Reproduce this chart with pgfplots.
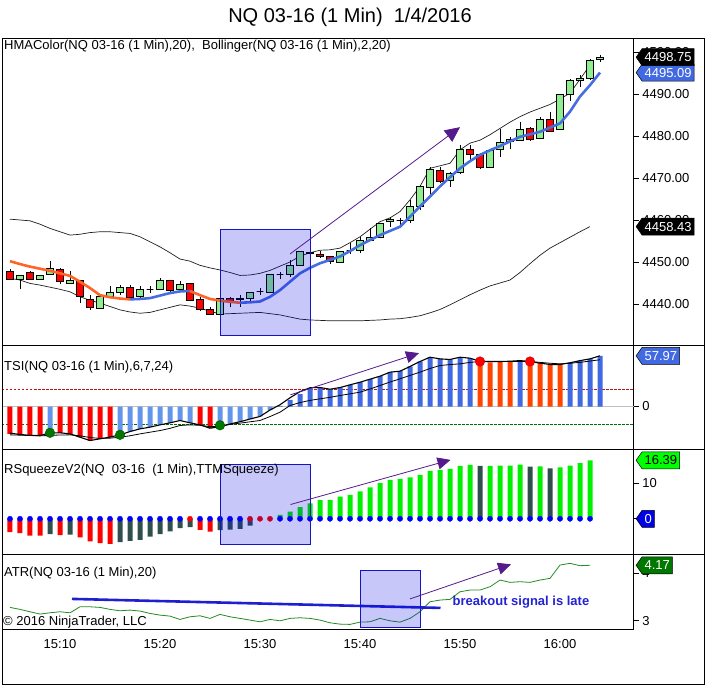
\documentclass[border=0pt]{standalone}
\usepackage{fontspec}
\setmainfont{Liberation Sans}
\usepackage{pgfplots}
\pgfplotsset{compat=1.18}
\usetikzlibrary{arrows.meta,shapes.symbols}

\definecolor{cgreen}{RGB}{144,238,144}
\definecolor{cred}{RGB}{255,0,0}
\definecolor{hmaor}{RGB}{255,100,40}
\definecolor{hmabl}{RGB}{70,110,225}
\definecolor{tsilb}{RGB}{100,149,237}
\definecolor{tsirb}{RGB}{65,105,225}
\definecolor{tsior}{RGB}{255,69,0}
\definecolor{sqgreen}{RGB}{0,240,0}
\definecolor{sqdark}{RGB}{47,79,79}
\definecolor{arrowc}{RGB}{85,26,139}
\definecolor{ovfill}{RGB}{0,0,230}
\definecolor{ovdraw}{RGB}{20,20,200}
\definecolor{atrg}{RGB}{34,139,34}
\definecolor{bandc}{RGB}{30,30,30}
\definecolor{lateblue}{RGB}{35,35,210}

\newcommand{\lbl}{\fontsize{13}{15}\selectfont}
% candle: position, body low, body high, low, high, fill
\newcommand{\candle}[6]{%
 \pgfmathsetmacro\xl{#1-0.33}\pgfmathsetmacro\xr{#1+0.33}%
 \addplot[black, line width=0.8pt] coordinates {(#1,#4) (#1,#5)};
 \addplot[draw=black, line width=0.8pt, fill=#6] coordinates {(\xl,#2) (\xr,#2) (\xr,#3) (\xl,#3)} -- cycle;}
\newcommand{\cu}[5]{\candle{#1}{#2}{#3}{#4}{#5}{cgreen}}
\newcommand{\cd}[5]{\candle{#1}{#2}{#3}{#4}{#5}{cred}}

\pgfplotsset{
 panel/.style={scale only axis, width=631.8pt, xmin=4.2, xmax=67.38, anchor=south west,
   axis line style={line width=0.8pt}, xtick=\empty, ytick pos=right, yticklabel pos=right,
   tick align=outside, major tick length=5pt, tick style={black, line width=0.8pt},
   ticklabel style={font=\lbl}, /pgf/number format/assume math mode=true,
   clip mode=individual},
}
\tikzset{
 ovbox/.style={fill=ovfill, fill opacity=0.22, draw=ovdraw, line width=0.9pt},
 annarrow/.style={arrowc, line width=0.8pt, -{Triangle[length=15pt,width=14pt]}},
 annarrows/.style={arrowc, line width=0.8pt, -{Triangle[length=13pt,width=12pt]}},
 tag/.style={signal, signal to=west, signal pointer angle=110, anchor=west,
   inner xsep=2.5pt, inner ysep=1.5pt, font=\lbl, draw=black, line width=0.5pt, minimum height=17pt}}

\begin{document}
\begin{tikzpicture}[x=1pt,y=1pt]
\path[use as bounding box] (0,0) rectangle (706,685);

% ---------------- price panel
\begin{axis}[panel, at={(2pt,339.5pt)}, height=307.5pt, ymin=4430.12, ymax=4503.33,
  ytick={4440,4450,4460,4470,4480,4490,4500},
  yticklabel style={/pgf/number format/.cd,fixed,fixed zerofill,precision=2,1000 sep={}}]
% bollinger
\addplot[bandc, line width=0.7pt] coordinates {(5,4460.2) (6,4460.0) (7,4459.8) (8,4459.0) (9,4458.0) (10,4457.2) (11,4456.4) (12,4456.6) (13,4457.0) (14,4457.2) (15,4457.2) (16,4457.0) (17,4456.8) (18,4456.0) (19,4454.8) (20,4453.6) (21,4452.2) (22,4450.7) (23,4450.2) (24,4449.2) (25,4448.6) (26,4448.1) (27,4447.5) (28,4446.8) (29,4446.9) (30,4447.3) (31,4448.0) (32,4449.0) (33,4450.0) (34,4451.4) (35,4452.2) (36,4452.8) (37,4452.9) (38,4453.3) (39,4454.6) (40,4456.0) (41,4457.8) (42,4459.6) (43,4460.5) (44,4462.0) (45,4464.8) (46,4468.0) (47,4472.3) (48,4472.9) (49,4473.5) (50,4476.7) (51,4478.3) (52,4479.0) (53,4480.3) (54,4481.8) (55,4483.3) (56,4484.6) (57,4485.7) (58,4486.6) (59,4487.5) (60,4488.8) (61,4490.2) (62,4493.5) (63,4496.9)};
\addplot[bandc, line width=0.7pt] coordinates {(5,4446.1) (6,4445.7) (7,4444.9) (8,4444.5) (9,4444.0) (10,4443.5) (11,4442.9) (12,4441.7) (13,4440.9) (14,4440.2) (15,4439.4) (16,4438.6) (17,4438.1) (18,4437.8) (19,4438.0) (20,4438.6) (21,4439.2) (22,4439.8) (23,4439.5) (24,4439.0) (25,4438.3) (26,4437.6) (27,4437.7) (28,4437.8) (29,4437.9) (30,4438.0) (31,4437.7) (32,4437.4) (33,4436.9) (34,4436.4) (35,4436.2) (36,4436.1) (37,4436.0) (38,4436.0) (39,4436.0) (40,4436.0) (41,4436.1) (42,4436.2) (43,4436.4) (44,4436.5) (45,4436.8) (46,4437.2) (47,4437.9) (48,4438.7) (49,4439.8) (50,4441.0) (51,4442.2) (52,4443.3) (53,4444.3) (54,4445.0) (55,4445.7) (56,4447.5) (57,4449.6) (58,4451.6) (59,4453.3) (60,4454.6) (61,4455.9) (62,4457.2) (63,4458.43)};
\cd{5}{4445.9}{4447.7}{4445.7}{4448.3}
\cu{6}{4445.9}{4446.8}{4443.5}{4446.9}
\cd{7}{4445.9}{4447.5}{4445.8}{4447.9}
\cu{8}{4445.9}{4446.8}{4445.8}{4447.0}
\cu{9}{4447.1}{4448.5}{4447.0}{4450.2}
\cd{10}{4445.3}{4448.3}{4444.8}{4448.6}
\cu{11}{4444.9}{4445.5}{4444.8}{4447.9}
\cd{12}{4441.7}{4445.7}{4440.2}{4445.8}
\cd{13}{4439.1}{4441.1}{4438.6}{4442.1}
\cu{14}{4439.0}{4441.7}{4438.9}{4441.8}
\cu{15}{4441.7}{4442.8}{4441.6}{4444.3}
\cu{16}{4442.7}{4444.0}{4442.1}{4444.5}
\cd{17}{4441.5}{4444.0}{4441.2}{4444.5}
\cu{18}{4441.7}{4443.5}{4441.1}{4444.3}
\cu{19}{4443.5}{4443.5}{4442.6}{4444.3}
\cu{20}{4443.5}{4445.5}{4443.4}{4446.1}
\cd{21}{4443.2}{4445.6}{4442.7}{4445.7}
\cu{22}{4443.5}{4444.7}{4442.9}{4445.4}
\cd{23}{4440.9}{4444.9}{4440.6}{4445.1}
\cd{24}{4438.7}{4441.1}{4438.4}{4441.7}
\cd{25}{4437.5}{4438.8}{4437.4}{4439.2}
\cu{26}{4437.5}{4441.3}{4437.4}{4441.4}
\cd{27}{4440.7}{4441.3}{4439.2}{4441.6}
\cu{28}{4441.0}{4441.4}{4439.4}{4442.1}
\cu{29}{4441.3}{4442.8}{4440.3}{4442.9}
\cu{30}{4443.0}{4443.0}{4442.1}{4443.7}
\cu{31}{4442.8}{4447.1}{4442.7}{4447.2}
\cu{32}{4447.0}{4447.0}{4445.9}{4447.7}
\cu{33}{4447.1}{4449.2}{4446.4}{4450.5}
\cu{34}{4449.3}{4452.5}{4449.2}{4452.6}
\cd{35}{4452.0}{4452.4}{4451.7}{4452.7}
\cd{36}{4451.3}{4451.9}{4450.9}{4452.7}
\cd{37}{4450.2}{4451.4}{4449.5}{4451.5}
\cu{38}{4449.9}{4452.6}{4449.8}{4452.7}
\cu{39}{4452.7}{4452.7}{4451.9}{4454.6}
\cu{40}{4452.7}{4455.2}{4452.1}{4455.9}
\cu{41}{4455.2}{4455.8}{4455.1}{4458.2}
\cu{42}{4455.8}{4459.2}{4455.6}{4459.4}
\cu{43}{4459.6}{4460.2}{4458.4}{4460.8}
\cu{44}{4459.8}{4459.8}{4458.6}{4460.5}
\cu{45}{4459.9}{4463.3}{4459.2}{4464.8}
\cu{46}{4463.3}{4468.0}{4462.4}{4468.3}
\cu{47}{4467.8}{4472.1}{4466.2}{4472.7}
\cd{48}{4469.1}{4471.9}{4468.7}{4472.5}
\cu{49}{4469.5}{4471.1}{4467.8}{4471.5}
\cu{50}{4471.3}{4476.7}{4470.9}{4477.8}
\cd{51}{4475.5}{4476.8}{4474.3}{4477.9}
\cd{52}{4472.5}{4475.5}{4472.1}{4475.9}
\cu{53}{4472.6}{4476.5}{4472.3}{4476.7}
\cu{54}{4476.8}{4478.5}{4474.9}{4481.6}
\cu{55}{4478.7}{4479.2}{4476.8}{4479.7}
\cu{56}{4479.0}{4481.6}{4478.9}{4483.4}
\cd{57}{4479.2}{4481.8}{4478.9}{4482.2}
\cu{58}{4479.4}{4484.0}{4479.2}{4484.4}
\cd{59}{4481.2}{4484.0}{4481.0}{4485.8}
\cu{60}{4481.6}{4490.0}{4481.5}{4490.1}
\cu{61}{4490.0}{4493.2}{4488.4}{4493.5}
\cu{62}{4493.3}{4493.7}{4491.7}{4494.5}
\cu{63}{4493.7}{4497.9}{4493.3}{4498.3}
\cu{64}{4498.3}{4498.75}{4497.7}{4499.3}
% HMA
\addplot[hmaor, line width=2.6pt] coordinates {(5,4450.2) (6,4449.5) (7,4448.9) (8,4448.4) (9,4447.9) (10,4447.3) (11,4446.7) (12,4445.3) (13,4443.8) (14,4442.1) (15,4441.6) (16,4441.3) (17,4441.1)};
\addplot[hmabl, line width=2.6pt] coordinates {(17,4441.1) (18,4441.2) (19,4441.4) (20,4442.0) (21,4442.6) (22,4443.0) (23,4443.1)};
\addplot[hmaor, line width=2.6pt] coordinates {(23,4443.1) (24,4442.1) (25,4441.2) (26,4440.8) (27,4440.5) (28,4440.3)};
\addplot[hmabl, line width=2.6pt] coordinates {(28,4440.3) (29,4440.4) (30,4440.6) (31,4441.7) (32,4443.3) (33,4445.3) (34,4447.3) (35,4448.6) (36,4449.7) (37,4450.5) (38,4451.3) (39,4452.6) (40,4454.0) (41,4455.2) (42,4456.4) (43,4457.4) (44,4458.4) (45,4460.8) (46,4463.2) (47,4465.6) (48,4468.0) (49,4470.2) (50,4472.3) (51,4474.0) (52,4475.5) (53,4476.6) (54,4477.6) (55,4478.7) (56,4479.8) (57,4480.4) (58,4481.0) (59,4482.0) (60,4483.0) (61,4485.8) (62,4489.4) (63,4492.1) (64,4495.09)};
\draw[ovbox] (axis cs:26.07,4432.4) rectangle (axis cs:35.07,4457.8);
\draw[annarrow] (axis cs:33,4451.9) -- (axis cs:50,4482.1);
\coordinate (p1) at (axis cs:67.38,4498.75);
\coordinate (p2) at (axis cs:67.38,4495.09);
\coordinate (p3) at (axis cs:67.38,4458.43);
\end{axis}

% ---------------- TSI panel
\begin{axis}[panel, at={(2pt,236pt)}, height=103.5pt, ymin=-48.6, ymax=69.8, ytick={0}]
\addplot[color={rgb,255:red,192;green,192;blue,192}, line width=1.2pt] coordinates {(4.2,0) (67.38,0)};
\addplot[color={rgb,255:red,190;green,20;blue,20}, line width=0.7pt, dash pattern=on 2.5pt off 1.5pt] coordinates {(4.2,20) (67.38,20)};
\addplot[color={rgb,255:red,0;green,110;blue,0}, line width=0.7pt, dash pattern=on 2.5pt off 1.5pt] coordinates {(4.2,-20) (67.38,-20)};
\addplot[ybar, bar width=5pt, bar shift=0pt, fill=red, draw=none] coordinates {(5,-31.3) (6,-32.4) (7,-33.2) (8,-32.4) (10,-30.1) (11,-31.3) (12,-35.1) (13,-38.9) (14,-37.0) (15,-35.0) (24,-21.0) (25,-24.8)};
\addplot[ybar, bar width=5pt, bar shift=0pt, fill=tsilb, draw=none] coordinates {(9,-30.1) (16,-32.4) (17,-28.6) (18,-25.6) (19,-23.6) (20,-21.0) (21,-18.7) (22,-16.0) (23,-18.7) (26,-23.1) (27,-20.0) (28,-17.4) (29,-14.3) (30,-11.4) (31,-4.0)};
\addplot[ybar, bar width=5pt, bar shift=0pt, fill=tsirb, draw=none] coordinates {(32,0.8) (33,7.7) (34,14.1) (35,21.0) (36,21.7) (37,19.8) (38,21.7) (39,24.8) (40,27.8) (41,31.3) (42,34.7) (43,39.3) (44,40.4) (45,45.8) (46,51.5) (47,56.4) (48,54.5) (49,53.8) (50,56.4) (51,55.3) (56,52.5) (61,50.0) (62,52.5) (63,54.5) (64,57.97)};
\addplot[ybar, bar width=5pt, bar shift=0pt, fill=tsior, draw=none] coordinates {(52,51.5) (53,50.5) (54,50.8) (55,51.4) (57,51.5) (58,49.6) (59,48.1) (60,48.1)};
\addplot[black, line width=0.8pt] coordinates {(5,-32.4) (6,-32.8) (7,-33.2) (8,-33.6) (9,-33.0) (10,-32.6) (11,-32.4) (12,-33.5) (13,-35.5) (14,-36.5) (15,-36.2) (16,-35.1) (17,-33.5) (18,-31.3) (19,-29.4) (20,-27.5) (21,-25.0) (22,-21.7) (23,-21.0) (24,-21.5) (25,-23.0) (26,-22.5) (27,-20.5) (28,-19.0) (29,-17.5) (30,-16.0) (31,-11.5) (32,-6.5) (33,1.1) (34,4.5) (35,7.0) (36,8.8) (37,10.5) (38,12.6) (39,14.5) (40,16.4) (41,20.0) (42,24.0) (43,28.0) (44,31.7) (45,35.5) (46,39.3) (47,43.5) (48,46.9) (49,48.0) (50,48.8) (51,50.5) (52,51.5) (53,51.5) (54,51.5) (55,51.4) (56,51.4) (57,51.4) (58,50.5) (59,49.5) (60,48.8) (61,49.5) (62,50.5) (63,52.0) (64,53.5)};
\addplot[black, line width=1.1pt] coordinates {(5,-30.5) (6,-32.0) (7,-33.0) (8,-33.2) (9,-30.1) (10,-30.1) (11,-31.3) (12,-35.1) (13,-38.9) (14,-37.0) (15,-35.0) (16,-32.4) (17,-28.6) (18,-25.6) (19,-23.6) (20,-21.0) (21,-18.7) (22,-16.0) (23,-18.7) (24,-21.0) (25,-24.8) (26,-23.1) (27,-20.0) (28,-17.4) (29,-14.3) (30,-11.4) (31,-4.0) (32,2.0) (33,10.0) (34,17.0) (35,21.5) (36,21.7) (37,19.8) (38,21.7) (39,24.8) (40,27.8) (41,31.3) (42,34.7) (43,39.3) (44,40.4) (45,45.8) (46,51.5) (47,56.4) (48,54.5) (49,53.8) (50,56.4) (51,55.3) (52,51.5) (53,51.5) (54,51.5) (55,51.8) (56,52.5) (57,51.5) (58,49.6) (59,48.1) (60,48.1) (61,50.0) (62,52.5) (63,54.5) (64,57.97)};
\addplot[only marks, mark=*, mark size=4.8pt, mark options={fill={rgb,255:red,0;green,120;blue,0}, draw={rgb,255:red,0;green,80;blue,0}}] coordinates {(9,-30.1) (16,-32.4) (26,-21.5)};
\addplot[only marks, mark=*, mark size=4.8pt, mark options={fill=red, draw=red!80!black}] coordinates {(52,51.5) (57,51.5)};
\draw[annarrows] (axis cs:33.05,13.4) -- (axis cs:45.9,61.1);
\coordinate (t1) at (axis cs:67.38,57.97);
\end{axis}

% ---------------- Squeeze panel
\begin{axis}[panel, at={(2pt,131pt)}, height=105pt, ymin=-9.86, ymax=19.55, ytick={0,10}]
\addplot[ybar, bar width=5pt, bar shift=0pt, fill=red, draw=none] coordinates {(5,-3.7) (6,-4.0) (7,-4.7) (8,-4.7) (10,-4.6) (12,-5.2) (13,-6.3) (14,-6.8) (15,-7.0) (24,-3.1) (25,-3.6)};
\addplot[ybar, bar width=5pt, bar shift=0pt, fill=sqdark, draw=none] coordinates {(9,-4.3) (11,-4.4) (16,-6.5) (17,-6.2) (18,-5.9) (19,-5.0) (20,-4.3) (21,-3.5) (22,-2.6) (23,-2.3) (26,-3.2) (27,-3.0) (28,-2.8) (29,-1.9) (30,-0.4) (52,14.8) (57,14.6) (59,14.1)};
\addplot[ybar, bar width=5pt, bar shift=0pt, fill=sqgreen, draw=none] coordinates {(31,0.3) (32,1.1) (33,2.0) (34,3.3) (35,4.3) (36,5.2) (37,5.3) (38,6.2) (39,6.7) (40,7.7) (41,8.8) (42,10.0) (43,10.9) (44,11.2) (45,11.6) (46,12.3) (47,13.4) (48,13.7) (49,14.0) (50,14.8) (51,15.1) (53,14.8) (54,14.9) (55,14.9) (56,15.2) (58,14.7) (60,14.4) (61,14.9) (62,15.6) (63,16.39)};
\addplot[only marks, mark=*, mark size=2.6pt, mark options={fill=blue, draw=blue}] coordinates {(5,0) (6,0) (7,0) (8,0) (9,0) (10,0) (11,0) (12,0) (13,0) (14,0) (15,0) (16,0) (17,0) (18,0) (19,0) (20,0) (21,0) (22,0) (24,0) (25,0) (26,0) (27,0) (28,0) (32,0) (33,0) (34,0) (35,0) (36,0) (37,0) (38,0) (39,0) (40,0) (41,0) (42,0) (43,0) (44,0) (45,0) (46,0) (47,0) (48,0) (49,0) (50,0) (51,0) (52,0) (53,0) (54,0) (55,0) (56,0) (57,0) (58,0) (59,0) (60,0) (61,0) (62,0) (63,0)};
\addplot[only marks, mark=*, mark size=2.6pt, mark options={fill=red, draw=red}] coordinates {(23,0) (29,0) (30,0) (31,0)};
\draw[ovbox] (axis cs:26.07,-7.3) rectangle (axis cs:35.08,15.1);
\draw[annarrows] (axis cs:33.05,4.0) -- (axis cs:49.05,16.5);
\coordinate (s1) at (axis cs:67.38,16.39);
\coordinate (s2) at (axis cs:67.38,0);
\end{axis}

% ---------------- ATR panel
\begin{axis}[panel, at={(2pt,56pt)}, height=75pt, ymin=2.825, ymax=4.408, ytick={3,4},
  xtick={10,20,30,40,50,60}, xticklabels={15:10,15:20,15:30,15:40,15:50,16:00},
  xtick pos=bottom, x tick style={draw=none}, xticklabel style={yshift=-2pt}]
\addplot[atrg, line width=0.8pt] coordinates {(5,3.281) (6,3.239) (7,3.189) (8,3.140) (9,3.167) (10,3.189) (11,3.167) (12,3.294) (13,3.294) (14,3.281) (15,3.239) (16,3.210) (17,3.224) (18,3.203) (19,3.154) (20,3.118) (21,3.097) (22,3.027) (23,3.083) (24,3.104) (25,3.049) (26,3.133) (27,3.083) (28,3.049) (29,3.013) (30,2.977) (31,3.027) (32,2.998) (33,3.049) (34,3.062) (35,3.049) (36,3.013) (37,2.956) (38,2.928) (39,2.922) (40,2.970) (41,2.977) (42,3.049) (43,2.998) (44,2.970) (45,3.049) (46,3.189) (47,3.400) (48,3.436) (49,3.450) (50,3.611) (51,3.647) (52,3.647) (53,3.717) (54,3.858) (55,3.809) (56,3.823) (57,3.809) (58,3.858) (59,3.894) (60,4.175) (61,4.211) (62,4.161) (63,4.17)};
\draw[color={rgb,255:red,30;green,30;blue,210}, line width=2.6pt] (axis cs:11.2,3.46) -- (axis cs:48.05,3.27);
\draw[ovbox] (axis cs:40.04,2.86) rectangle (axis cs:46.03,4.07);
\draw[annarrows] (axis cs:45,3.46) -- (axis cs:55.1,4.19);
\node[font=\lbl\bfseries, text=lateblue] at (axis cs:56.1,3.39) {breakout signal is late};
\coordinate (a1) at (axis cs:67.38,4.17);
\end{axis}

% frame and separators
\draw[line width=0.8pt] (2,1) rectangle (704,647);
\draw[line width=0.8pt] (2,339.5) -- (704,339.5);
\draw[line width=0.8pt] (2,236) -- (704,236);
\draw[line width=0.8pt] (2,131) -- (704,131);

% value tags
\node[tag, fill=tsirb, text=white] at ([xshift=2pt]p2) {4495.09};
\node[tag, fill=black, text=white] at ([xshift=2pt]p1) {4498.75};
\node[tag, fill=black, text=white] at ([xshift=2pt]p3) {4458.43};
\node[tag, fill=tsirb, text=white] at ([xshift=2pt]t1) {57.97};
\node[tag, fill={rgb,255:red,0;green,255;blue,0}, text=black] at ([xshift=2pt]s1) {16.39};
\node[tag, fill={rgb,255:red,0;green,0;blue,230}, text=white] at ([xshift=2pt]s2) {0};
\node[tag, fill={rgb,255:red,0;green,120;blue,0}, text=white] at ([xshift=2pt]a1) {4.17};

% texts
\node[font=\fontsize{20}{24}\selectfont] at (350,668) {NQ 03-16 (1 Min)\ \ 1/4/2016};
\node[anchor=west, font=\lbl, inner sep=0pt] at (4,639) {HMAColor(NQ 03-16 (1 Min),20),\ \ Bollinger(NQ 03-16 (1 Min),2,20)};
\node[anchor=west, font=\lbl, inner sep=0pt] at (4,318.3) {TSI(NQ 03-16 (1 Min),6,7,24)};
\node[anchor=west, font=\lbl, inner sep=0pt] at (4,215) {RSqueezeV2(NQ\ \ 03-16\ \ (1 Min),TTMSqueeze)};
\node[anchor=west, font=\lbl, inner sep=0pt] at (4,112) {ATR(NQ 03-16 (1 Min),20)};
\node[anchor=west, font=\lbl, inner sep=0pt] at (3,63.3) {© 2016 NinjaTrader, LLC};
\end{tikzpicture}
\end{document}
